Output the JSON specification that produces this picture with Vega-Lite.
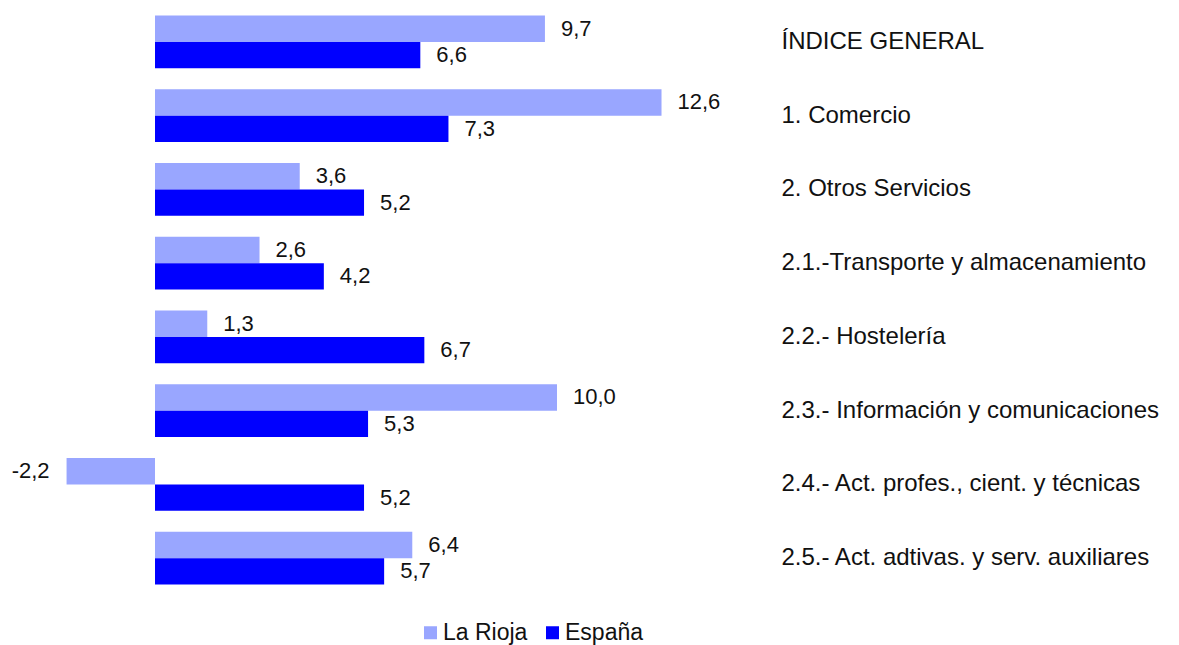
{
  "$schema": "https://vega.github.io/schema/vega-lite/v6.json",
  "width": 776,
  "height": 590,
  "padding": {"left": 0, "top": 5, "right": 0, "bottom": 0},
  "background": "white",
  "config": {
    "locale": {"number": {"decimal": ",", "thousands": ".", "grouping": [3], "currency": ["", " €"], "minus": "-"}},
    "view": {"stroke": null},
    "font": "Liberation Sans"
  },
  "data": {
    "values": [
      {"cat": "ÍNDICE GENERAL", "serie": "La Rioja", "v": 9.7},
      {"cat": "ÍNDICE GENERAL", "serie": "España", "v": 6.6},
      {"cat": "1. Comercio", "serie": "La Rioja", "v": 12.6},
      {"cat": "1. Comercio", "serie": "España", "v": 7.3},
      {"cat": "2. Otros Servicios", "serie": "La Rioja", "v": 3.6},
      {"cat": "2. Otros Servicios", "serie": "España", "v": 5.2},
      {"cat": "2.1.-Transporte y almacenamiento", "serie": "La Rioja", "v": 2.6},
      {"cat": "2.1.-Transporte y almacenamiento", "serie": "España", "v": 4.2},
      {"cat": "2.2.- Hostelería", "serie": "La Rioja", "v": 1.3},
      {"cat": "2.2.- Hostelería", "serie": "España", "v": 6.7},
      {"cat": "2.3.- Información y comunicaciones", "serie": "La Rioja", "v": 10.0},
      {"cat": "2.3.- Información y comunicaciones", "serie": "España", "v": 5.3},
      {"cat": "2.4.- Act. profes., cient. y técnicas", "serie": "La Rioja", "v": -2.2},
      {"cat": "2.4.- Act. profes., cient. y técnicas", "serie": "España", "v": 5.2},
      {"cat": "2.5.- Act. adtivas. y serv. auxiliares", "serie": "La Rioja", "v": 6.4},
      {"cat": "2.5.- Act. adtivas. y serv. auxiliares", "serie": "España", "v": 5.7}
    ]
  },
  "encoding": {
    "y": {
      "field": "cat", "type": "nominal", "sort": null, "title": null,
      "scale": {"paddingInner": 0.282, "paddingOuter": 0.141},
      "axis": {"orient": "right", "ticks": false, "domain": false, "labelPadding": 5, "labelFontSize": 24, "labelColor": "#111", "labelLimit": 500, "labelFont": "Liberation Sans"}
    },
    "yOffset": {"field": "serie", "type": "nominal", "sort": ["La Rioja", "España"], "scale": {"paddingInner": 0, "paddingOuter": 0}},
    "x": {
      "field": "v", "type": "quantitative",
      "scale": {"domain": [-3.856, 15.448], "nice": false, "zero": false},
      "axis": null
    }
  },
  "layer": [
    {
      "mark": {"type": "bar"},
      "encoding": {
        "color": {
          "field": "serie", "type": "nominal", "sort": ["La Rioja", "España"],
          "scale": {"domain": ["La Rioja", "España"], "range": ["#99A6FF", "#0000FF"]},
          "legend": {
            "title": null, "orient": "none", "direction": "horizontal",
            "legendX": 419, "legendY": 616,
            "symbolType": "square", "symbolSize": 169, "symbolStrokeWidth": 0,
            "labelFontSize": 23, "labelColor": "#111", "labelOffset": 1, "columnPadding": 13,
            "labelFont": "Liberation Sans"
          }
        }
      }
    },
    {
      "transform": [{"filter": "datum.v >= 0"}],
      "mark": {"type": "text", "align": "left", "baseline": "middle", "dx": 16, "fontSize": 22, "color": "#111"},
      "encoding": {"text": {"field": "v", "type": "quantitative", "format": ".1f"}}
    },
    {
      "transform": [{"filter": "datum.v < 0"}],
      "mark": {"type": "text", "align": "right", "baseline": "middle", "dx": -17, "fontSize": 22, "color": "#111"},
      "encoding": {"text": {"field": "v", "type": "quantitative", "format": ".1f"}}
    }
  ]
}
